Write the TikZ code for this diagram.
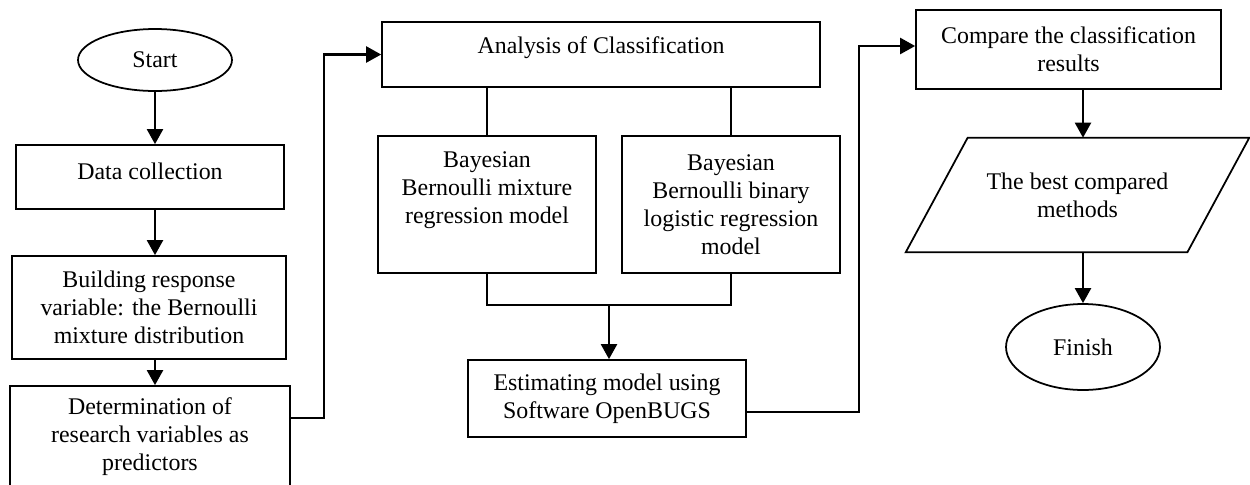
\documentclass[tikz,border=0pt]{standalone}
\usepackage{fontspec}
\setmainfont{Liberation Serif}
\usetikzlibrary{shapes.geometric,arrows.meta,calc}

\tikzset{
  every node/.style={font=\fontsize{13.6pt}{15.9pt}\selectfont, align=center},
  box/.style={draw, line width=1pt, inner sep=0pt},
  term/.style={draw, ellipse, line width=1pt, inner sep=0pt},
  link/.style={line width=1pt},
  arr/.style={line width=1.3pt, -{Triangle[length=0.3cm,width=0.32cm]}}
}

\begin{document}
\begin{tikzpicture}[x=0.02cm,y=-0.02cm]
\useasboundingbox (0,0) rectangle (1250,484);

% left column
\node[term,minimum width=3.08cm,minimum height=1.24cm] (start) at (155,60) {Start};
\node[box,minimum width=5.36cm,minimum height=1.28cm,text depth=0.24cm] (data) at (150,177) {Data collection};
\node[box,minimum width=5.48cm,minimum height=2.06cm] (build) at (149,307.5) {Building response\\variable: the Bernoulli\\mixture distribution};
\node[box,minimum width=5.6cm,minimum height=2.04cm] (determ) at (150,437) {Determination of\\research variables as\\predictors};

% middle
\node[box,minimum width=8.76cm,minimum height=1.3cm,text depth=0.36cm] (analysis) at (601,54.5) {Analysis of Classification};
\node[box,minimum width=4.36cm,minimum height=2.74cm,text depth=0.66cm] (mix) at (487,204.5) {Bayesian\\Bernoulli mixture\\regression model};
\node[box,minimum width=4.36cm,minimum height=2.74cm] (bin) at (731,204.5) {Bayesian\\Bernoulli binary\\logistic regression\\model};
\node[box,minimum width=5.56cm,minimum height=1.54cm] (estim) at (607,398.5) {Estimating model using\\Software OpenBUGS};

% right column
\node[box,minimum width=6.1cm,minimum height=1.58cm] (compare) at (1068.5,49.5) {Compare the classification\\results};
\node[minimum width=5.62cm,minimum height=2.28cm,inner sep=0pt] (best) at (1077.5,195) {The best compared\\methods};
\draw[link] ([xshift=-0.62cm]best.south west) -- ([xshift=0.62cm]best.north west) -- ([xshift=0.62cm]best.north east) -- ([xshift=-0.62cm]best.south east) -- cycle;
\node[term,minimum width=3.08cm,minimum height=1.72cm] (finish) at (1083,347) {Finish};

% connectors
\draw[arr] (start) -- (start |- data.north);
\draw[arr] (data.south -| start) -- (build.north -| start);
\draw[arr] (build.south -| start) -- (determ.north -| start);
\draw[arr] ([yshift=0.38cm]determ.east) -- ++(33,0) |- (analysis.west);

\draw[link] (mix.north) -- (mix.north |- analysis.south);
\draw[link] (bin.north) -- (bin.north |- analysis.south);
\draw[link] (mix.south) -- ++(0,31) -| (bin.south);
\coordinate (join) at ($(mix.south)!.5!(bin.south) + (0,31)$);
\draw[arr] (join) -- (join |- estim.north);

\draw[arr] ([yshift=-0.27cm]estim.east) -- ++(112,0) |- ([yshift=0.07cm]compare.west);
\draw[arr] (compare.south -| finish) -- (best.north -| finish);
\draw[arr] (best.south -| finish) -- (finish.north);
\end{tikzpicture}
\end{document}
